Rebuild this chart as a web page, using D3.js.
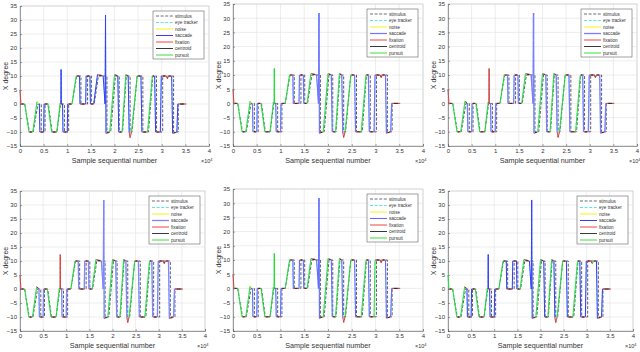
<!DOCTYPE html>
<html>
<head>
<meta charset="utf-8">
<script src="https://cdn.jsdelivr.net/npm/d3@7"></script>
<style>
  body { margin: 0; background: #fff; }
  svg text { font-family: "Liberation Sans", Arial, sans-serif; fill: #333; }
</style>
</head>
<body>
<svg id="chart" width="640" height="352"></svg>
<script>
// ticks
var xTicks = [0, 0.5, 1, 1.5, 2, 2.5, 3, 3.5, 4];
var yTicks = [-15, -10, -5, 0, 5, 10, 15, 20, 25, 30, 35];

// legend entries
var legendNames = ['stimulus', 'eye tracker', 'noise', 'saccade', 'fixation', 'centroid', 'pursuit'];

// stimulus breakpoints, x in 1e4 samples, y in degrees
var stimX = [0, 0.10, 0.20, 0.28, 0.38, 0.45, 0.45, 0.53, 0.53, 0.60, 0.68, 0.78, 0.86, 0.94, 0.94, 1.03, 1.03, 1.10, 1.20, 1.29, 1.29, 1.43, 1.43, 1.51, 1.51, 1.57, 1.66, 1.84, 1.84, 1.92, 2.02, 2.10, 2.10, 2.17, 2.25, 2.33, 2.33, 2.37, 2.48, 2.60, 2.60, 2.72, 2.81, 2.89, 2.89, 3.02, 3.02, 3.25, 3.25, 3.35, 3.35, 3.50];
var stimY = [0, 0, -10, -10, 0, 0, -10, -10, 0, 0, -10, -10, 0, 0, -10, -10, 0, 0, 10, 10, 0, 0, 10, 10, 0, 0, 10, 10, -10, -10, 10, 10, -10, -10, 10, 10, -10, -10, 10, 10, -10, -10, 10, 10, -10, -10, 10, 10, -10, -10, 0, 0];

// eye tracker breakpoints (same recording in all panels)
var eyeX = [0, 0.02, 0.10, 0.19, 0.27, 0.36, 0.41, 0.42, 0.50, 0.51, 0.59, 0.67, 0.78, 0.85, 0.865, 0.87, 0.875, 0.90, 0.91, 1.00, 1.01, 1.10, 1.19, 1.26, 1.27, 1.39, 1.40, 1.48, 1.49, 1.56, 1.64, 1.76, 1.80, 1.81, 1.82, 1.90, 2.00, 2.07, 2.09, 2.16, 2.24, 2.29, 2.31, 2.33, 2.36, 2.48, 2.56, 2.58, 2.70, 2.80, 2.85, 2.87, 2.97, 2.99, 3.10, 3.12, 3.14, 3.21, 3.23, 3.32, 3.34, 3.52];
var eyeY = [5, 0, 0, -10, -10, 0.8, 0, -10, -10, 0, 0, -10, -10, 0.3, 0, 12.3, 0, 0, -10, -10, 0, 0, 10, 10, 0, 0, 10, 10, 0, 0, 10.5, 10, 0, 31.8, -10.5, -10, 10.5, 10, -10, -10, 10.5, 10, -10, -12, -10, 10, 10, -10, -10, 10, 10, -10, -10, 10, 10, 9, 10, 10, -10.5, -10, 0, 0];

// class of each eye segment per panel: F fixation, S saccade, P pursuit, N noise
var classes1 = 'FFPFPNSFSFPFPFSSFSFSFPFSFSFSFSFSSSFPFSFPFSFFPFSFPFSFSFFFFSFSF';
var classes2 = 'FFPFPNSFSFPFPFPPFSFSFPFSFSFSFPFSSSFPFSFPFSFFPFSFPFSFSFFFFSFSF';
var classes3 = 'FFPFPFSFSFPFPFFFFSFSFPFSFSFSFPFSSSFPFSFPFSFFPFSFPFSFSFFFFSFSF';
var classes4 = 'FFPFPFSFSFPFPFFFFSFSFPFSFSFSFPFSSSFPFSFPFSFFPFSFPFSFSFFFFSFSF';
var classes5 = 'FFPFPNSFSFPFPFPPFSFSFPFSFSFSFPFSSSFPFSFPFSFFPFSFPFSFPFFFFSFSF';
var classes6 = 'PFPFPFSFSFPFPFSSFSFSFPFSFSFSFPFSSSFPFSFPFSFFPFSFPFSFSFFPFSFSF';

var classColor = { N: '#f0f000', F: '#ee3030', P: '#22dd22' };

var svg = d3.select('#chart');

var panels = [
  { left: 20, right: 209, top: 6, bottom: 146, cls: classes1, sac: '#3a3aff', sw: 1 },
  { left: 233, right: 423, top: 4, bottom: 146, cls: classes2, sac: '#7474ff', sw: 1.2 },
  { left: 448, right: 637, top: 4, bottom: 146, cls: classes3, sac: '#7c7cff', sw: 1.3 },
  { left: 20, right: 205, top: 191, bottom: 331, cls: classes4, sac: '#8484ff', sw: 1.3 },
  { left: 233, right: 423, top: 189, bottom: 331, cls: classes5, sac: '#6a6aff', sw: 1.1 },
  { left: 448, right: 633, top: 191, bottom: 331, cls: classes6, sac: '#3a3aff', sw: 1 }
];

panels.forEach(function(p) { drawPanel(p); });

function drawPanel(p) {
  var x = d3.scaleLinear().domain([0, 4]).range([p.left, p.right]);
  var y = d3.scaleLinear().domain([-15, 35]).range([p.bottom, p.top]);
  var g = svg.append('g');

  // grid
  g.selectAll('.gx').data(xTicks).enter().append('line')
    .attr('x1', function(d) { return x(d); }).attr('x2', function(d) { return x(d); })
    .attr('y1', p.top).attr('y2', p.bottom)
    .attr('stroke', '#e0e0e0').attr('stroke-width', 0.6);
  g.selectAll('.gy').data(yTicks).enter().append('line')
    .attr('y1', function(d) { return y(d); }).attr('y2', function(d) { return y(d); })
    .attr('x1', p.left).attr('x2', p.right)
    .attr('stroke', '#e0e0e0').attr('stroke-width', 0.6);

  // box
  g.append('rect')
    .attr('x', p.left).attr('y', p.top)
    .attr('width', p.right - p.left).attr('height', p.bottom - p.top)
    .attr('fill', 'none').attr('stroke', '#c8c8c8').attr('stroke-width', 0.6);

  // axes
  var xAxis = d3.axisBottom(x).tickValues(xTicks).tickSize(-2).tickPadding(3)
    .tickFormat(function(d) { return d; });
  var gx = g.append('g').attr('transform', 'translate(0,' + p.bottom + ')').call(xAxis);
  var yAxis = d3.axisLeft(y).tickValues(yTicks).tickSize(-2).tickPadding(3);
  var gy = g.append('g').attr('transform', 'translate(' + p.left + ',0)').call(yAxis);
  [gx, gy].forEach(function(a) {
    a.select('.domain').attr('stroke', '#666').attr('stroke-width', 0.6);
    a.selectAll('.tick line').attr('stroke', '#666').attr('stroke-width', 0.6);
    a.selectAll('.tick text').attr('font-size', 6).attr('fill', '#3a3a3a')
      .style('font-family', '"Liberation Sans", Arial, sans-serif');
  });

  g.append('text')
    .attr('x', (p.left + p.right) / 2).attr('y', p.bottom + 17)
    .attr('text-anchor', 'middle').attr('font-size', 7.2)
    .text('Sample sequential number');
  g.append('text')
    .attr('transform', 'translate(' + (p.left - 12) + ',' + ((p.top + p.bottom) / 2) + ') rotate(-90)')
    .attr('text-anchor', 'middle').attr('font-size', 7)
    .text('X degree');
  var ex = g.append('text')
    .attr('x', p.right - 8).attr('y', p.bottom + 17)
    .attr('font-size', 5.5);
  ex.append('tspan').text('\u00d710');
  ex.append('tspan').attr('dy', -2.5).attr('font-size', 4).text('4');

  var line = d3.line().x(function(d) { return x(d[0]); }).y(function(d) { return y(d[1]); });

  // stimulus
  var stim = stimX.map(function(v, i) { return [v, stimY[i]]; });
  g.append('path').attr('d', line(stim))
    .attr('fill', 'none').attr('stroke', '#5a5a6a').attr('stroke-width', 1)
    .attr('stroke-dasharray', '3,1.6');

  // eye tracker
  var eye = eyeX.map(function(v, i) { return [v, eyeY[i]]; });
  g.append('path').attr('d', line(eye))
    .attr('fill', 'none').attr('stroke', '#40e8e8').attr('stroke-width', 0.8)
    .attr('stroke-dasharray', '3,1.6');

  function segsOf(c) {
    var segs = [];
    for (var i = 0; i < eye.length - 1; i++) {
      if (p.cls[i] === c) segs.push([eye[i], eye[i + 1]]);
    }
    return segs;
  }

  // classified segments, drawn in legend order
  g.selectAll('.segN').data(segsOf('N')).enter().append('path')
    .attr('d', function(d) { return line(d); })
    .attr('fill', 'none').attr('stroke', classColor.N).attr('stroke-width', 0.9);
  g.selectAll('.segS').data(segsOf('S')).enter().append('path')
    .attr('d', function(d) { return line(d); })
    .attr('fill', 'none').attr('stroke', p.sac).attr('stroke-width', p.sw);
  g.selectAll('.segF').data(segsOf('F')).enter().append('path')
    .attr('d', function(d) { return line(d); })
    .attr('fill', 'none').attr('stroke', classColor.F).attr('stroke-width', 0.9);

  // centroid: flat line through the middle of each fixation segment
  var cents = [];
  for (var i = 0; i < eye.length - 1; i++) {
    if (p.cls[i] === 'F' && Math.abs(eye[i][1] - eye[i + 1][1]) < 1.5) {
      var a = eye[i][0], b = eye[i + 1][0], m = (eye[i][1] + eye[i + 1][1]) / 2;
      var pad = (b - a) * 0.28;
      cents.push([[a + pad, m], [b - pad, m]]);
    }
  }
  g.selectAll('.cent').data(cents).enter().append('path')
    .attr('d', function(d) { return line(d); })
    .attr('fill', 'none').attr('stroke', '#222').attr('stroke-width', 0.9);

  g.selectAll('.segP').data(segsOf('P')).enter().append('path')
    .attr('d', function(d) { return line(d); })
    .attr('fill', 'none').attr('stroke', classColor.P).attr('stroke-width', 0.9);

  // legend
  var lx = p.right - 56, ly = p.top + 5;
  var lg = g.append('g').attr('transform', 'translate(' + lx + ',' + ly + ')');
  lg.append('rect').attr('width', 51).attr('height', 48)
    .attr('fill', '#fff').attr('stroke', '#444').attr('stroke-width', 0.5);
  var styles = [
    { c: '#5a5a6a', dash: '3,1.6', w: 0.9 },
    { c: '#40e8e8', dash: '3,1.6', w: 0.9 },
    { c: classColor.N, dash: null, w: 0.9 },
    { c: p.sac, dash: null, w: p.sw },
    { c: classColor.F, dash: null, w: 0.9 },
    { c: '#222', dash: null, w: 0.9 },
    { c: classColor.P, dash: null, w: 0.9 }
  ];
  legendNames.forEach(function(name, k) {
    var yy = 5 + k * 6.5;
    lg.append('line').attr('x1', 3).attr('x2', 20).attr('y1', yy).attr('y2', yy)
      .attr('stroke', styles[k].c).attr('stroke-width', styles[k].w)
      .attr('stroke-dasharray', styles[k].dash);
    lg.append('text').attr('x', 22).attr('y', yy + 1.6)
      .attr('font-size', 4.6).text(name);
  });
}
</script>
</body>
</html>
